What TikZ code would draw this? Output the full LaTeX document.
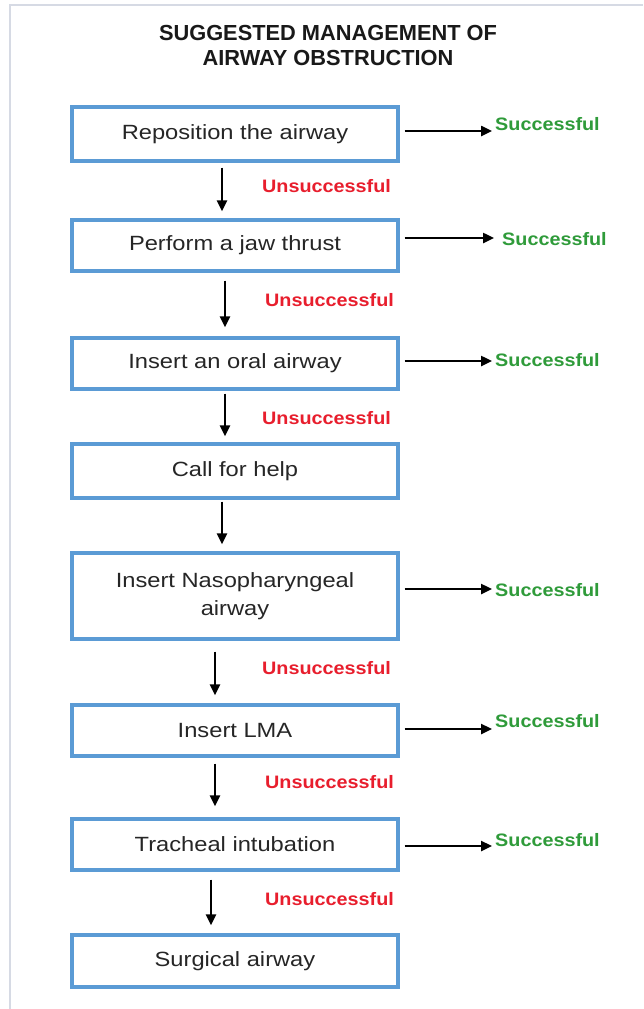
\documentclass[tikz,border=0pt]{standalone}
\usepackage{fontspec}
\setmainfont{Liberation Sans}
\newfontfamily\boxfont[FakeStretch=1.15]{Liberation Sans}
\newfontfamily\lblfont[FakeStretch=1.1]{Liberation Sans}
\usetikzlibrary{arrows.meta}
\definecolor{boxblue}{RGB}{91,155,213}
\definecolor{okgreen}{RGB}{47,155,58}
\definecolor{badred}{RGB}{232,30,45}
\definecolor{framegray}{RGB}{214,218,228}
\tikzset{
  stepbox/.style={draw=boxblue, line width=3.2pt, fill=white, minimum width=326pt, inner sep=0pt,
    font=\boxfont\fontsize{20.6}{28}\selectfont, align=center, text=black!85},
  okl/.style={font=\lblfont\bfseries\fontsize{18}{20}\selectfont, text=okgreen, anchor=west, inner sep=0pt},
  badl/.style={font=\lblfont\bfseries\fontsize{18}{20}\selectfont, text=badred, anchor=west, inner sep=0pt},
  arr/.style={line width=2.4pt, -{Triangle[length=11pt,width=10pt]}}
}
\begin{document}
\begin{tikzpicture}[x=1pt,y=-1pt]
\useasboundingbox (0,0) rectangle (643,1009);
\fill[white] (0,0) rectangle (643,1009);
\draw[framegray, line width=1.2pt] (10,1009) -- (10,5) -- (643,5);
\node[font=\bfseries\fontsize{21.8}{25}\selectfont, align=center, text=black!90] (title) at (328,45) {SUGGESTED MANAGEMENT OF\\AIRWAY OBSTRUCTION};
% boxes
\node[stepbox, minimum height=54pt] (b1) at (235,134) {Reposition the airway};
\node[stepbox, minimum height=51pt] (b2) at (235,245.5) {Perform a jaw thrust};
\node[stepbox, minimum height=51pt] (b3) at (235,363.5) {Insert an oral airway};
\node[stepbox, minimum height=54pt] (b4) at (235,471) {Call for help};
\node[stepbox, minimum height=86pt] (b5) at (235,596) {Insert Nasopharyngeal\\airway};
\node[stepbox, minimum height=51pt] (b6) at (235,730.5) {Insert LMA};
\node[stepbox, minimum height=51pt] (b7) at (235,844.5) {Tracheal intubation};
\node[stepbox, minimum height=52pt] (b8) at (235,961) {Surgical airway};
% successful labels
\node[okl] (s1) at (495,124) {Successful};
\node[okl] (s2) at (502,239) {Successful};
\node[okl] (s3) at (495,360) {Successful};
\node[okl] (s5) at (495,590) {Successful};
\node[okl] (s6) at (495,721) {Successful};
\node[okl] (s7) at (495,840) {Successful};
% unsuccessful labels
\node[badl] (u1) at (262,186) {Unsuccessful};
\node[badl] (u2) at (265,300) {Unsuccessful};
\node[badl] (u3) at (262,418) {Unsuccessful};
\node[badl] (u5) at (262,668) {Unsuccessful};
\node[badl] (u6) at (265,782) {Unsuccessful};
\node[badl] (u7) at (265,899) {Unsuccessful};
% right arrow ends
\coordinate (e1) at (492,131);
\coordinate (e2) at (494,238);
\coordinate (e3) at (492,361);
\coordinate (e5) at (492,589);
\coordinate (e6) at (492,729);
\coordinate (e7) at (492,846);
\draw[arr, shorten <=5pt] (b1.east |- e1) -- (e1);
\draw[arr, shorten <=5pt] (b2.east |- e2) -- (e2);
\draw[arr, shorten <=5pt] (b3.east |- e3) -- (e3);
\draw[arr, shorten <=5pt] (b5.east |- e5) -- (e5);
\draw[arr, shorten <=5pt] (b6.east |- e6) -- (e6);
\draw[arr, shorten <=5pt] (b7.east |- e7) -- (e7);
% down arrows
\draw[arr, shorten <=5pt, shorten >=7pt] ([xshift=-13pt]b1.south) -- ([xshift=-13pt]b2.north);
\draw[arr, shorten <=8pt, shorten >=9pt] ([xshift=-10pt]b2.south) -- ([xshift=-10pt]b3.north);
\draw[arr, shorten <=3pt, shorten >=6pt] ([xshift=-10pt]b3.south) -- ([xshift=-10pt]b4.north);
\draw[arr, shorten <=2pt, shorten >=7pt] ([xshift=-13pt]b4.south) -- ([xshift=-13pt]b5.north);
\draw[arr, shorten <=11pt, shorten >=8pt] ([xshift=-20pt]b5.south) -- ([xshift=-20pt]b6.north);
\draw[arr, shorten <=6pt, shorten >=11pt] ([xshift=-20pt]b6.south) -- ([xshift=-20pt]b7.north);
\draw[arr, shorten <=8pt, shorten >=8pt] ([xshift=-24pt]b7.south) -- ([xshift=-24pt]b8.north);
\end{tikzpicture}
\end{document}
